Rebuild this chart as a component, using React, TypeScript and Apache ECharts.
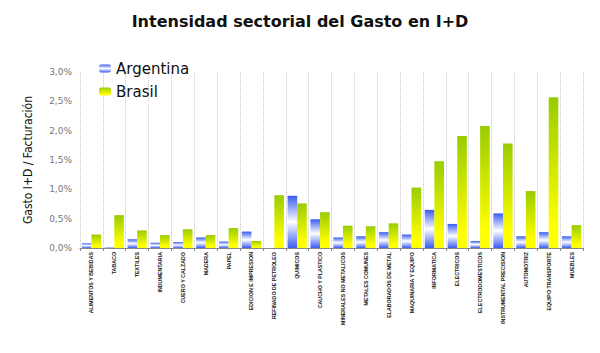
import React, { useEffect, useRef } from "react";
import * as echarts from "echarts";

const categories = [
  "ALIMENTOS Y BEBIDAS",
  "TABACO",
  "TEXTILES",
  "INDUMENTARIA",
  "CUERO Y CALZADO",
  "MADERA",
  "PAPEL",
  "EDICION E IMPRESION",
  "REFINADO DE PETROLEO",
  "QUIMICOS",
  "CAUCHO Y PLASTICO",
  "MINERALES NO METALICOS",
  "METALES COMUNES",
  "ELABORADOS DE METAL",
  "MAQUINARIA Y EQUIPO",
  "INFORMATICA",
  "ELECTRICOS",
  "ELECTRODOMESTICOS",
  "INSTRUMENTAL PRECISION",
  "AUTOMOTRIZ",
  "EQUIPO TRANSPORTE",
  "MUEBLES",
];

const argentina = [
  0.08, 0.01, 0.15, 0.09, 0.1, 0.18, 0.11, 0.28, 0.0, 0.89, 0.49, 0.18, 0.2,
  0.27, 0.23, 0.65, 0.41, 0.12, 0.59, 0.2, 0.27, 0.2,
];

const brasil = [
  0.23, 0.56, 0.3, 0.22, 0.32, 0.22, 0.34, 0.12, 0.9, 0.76, 0.61, 0.38, 0.37,
  0.42, 1.03, 1.48, 1.91, 2.08, 1.78, 0.97, 2.57, 0.39,
];

const yTicks = ["0,0%", "0,5%", "1,0%", "1,5%", "2,0%", "2,5%", "3,0%"];

export default function App() {
  const ref = useRef<HTMLDivElement>(null);

  useEffect(() => {
    if (!ref.current) return;
    const chart = echarts.init(ref.current, null, { renderer: "svg" });
    const blueGrad = new echarts.graphic.LinearGradient(0, 0, 0, 1, [
      { offset: 0, color: "#3a5cf0" },
      { offset: 0.5, color: "#ffffff" },
      { offset: 1, color: "#3a5cf0" },
    ]);
    const greenGrad = new echarts.graphic.LinearGradient(0, 0, 0, 1, [
      { offset: 0, color: "#99cc00" },
      { offset: 0.85, color: "#ffff00" },
      { offset: 1, color: "#ffff00" },
    ]);
    chart.setOption({
      animation: false,
      backgroundColor: "#ffffff",
      title: {
        text: "Intensidad sectorial del Gasto en I+D",
        left: "center",
        top: 8,
        textStyle: {
          fontFamily: "DejaVu Sans, Liberation Sans, Arial, sans-serif",
          fontSize: 16,
          fontWeight: "bold",
          color: "#111111",
        },
      },
      legend: {
        orient: "vertical",
        left: 94,
        top: 56,
        itemWidth: 12,
        itemHeight: 8,
        itemGap: 8,
        textStyle: {
          fontFamily: "DejaVu Sans, Liberation Sans, Arial, sans-serif",
          fontSize: 15,
          color: "#111111",
        },
        data: ["Argentina", "Brasil"],
      },
      grid: { left: 80, right: 17, top: 72, bottom: 105, containLabel: false },
      xAxis: {
        type: "category",
        data: categories,
        axisLine: { show: true, lineStyle: { color: "#888888", width: 1 } },
        axisTick: { show: true, length: 3, lineStyle: { color: "#888888" } },
        axisLabel: {
          rotate: 90,
          interval: 0,
          margin: 4,
          fontSize: 5.3,
          fontWeight: "bold",
          fontFamily: "Liberation Sans, Arial, sans-serif",
          color: "#222222",
        },
        splitLine: {
          show: true,
          lineStyle: { color: "#c8c8c8", type: "dotted", width: 1 },
        },
      },
      yAxis: {
        type: "value",
        min: 0,
        max: 3,
        interval: 0.5,
        name: "Gasto I+D / Facturación",
        nameLocation: "middle",
        nameGap: 46,
        nameTextStyle: {
          fontFamily:
            "Liberation Sans Narrow, DejaVu Sans Condensed, Liberation Sans, Arial, sans-serif",
          fontSize: 12,
          color: "#111111",
        },
        axisLine: { show: false },
        axisTick: { show: false },
        splitLine: { show: false },
        axisLabel: {
          margin: 8,
          fontSize: 9,
          fontFamily: "DejaVu Sans, Liberation Sans, Arial, sans-serif",
          color: "#777777",
          formatter: (v: number) => yTicks[Math.round(v / 0.5)] ?? "",
        },
      },
      series: [
        {
          name: "Argentina",
          type: "bar",
          data: argentina,
          barGap: "0%",
          barCategoryGap: "16%",
          itemStyle: { color: blueGrad },
        },
        {
          name: "Brasil",
          type: "bar",
          data: brasil,
          barGap: "0%",
          barCategoryGap: "16%",
          itemStyle: { color: greenGrad },
        },
      ],
    });
    return () => chart.dispose();
  }, []);

  return (
    <div
      ref={ref}
      style={{ position: "fixed", left: 0, top: 0, width: 600, height: 353 }}
    />
  );
}
